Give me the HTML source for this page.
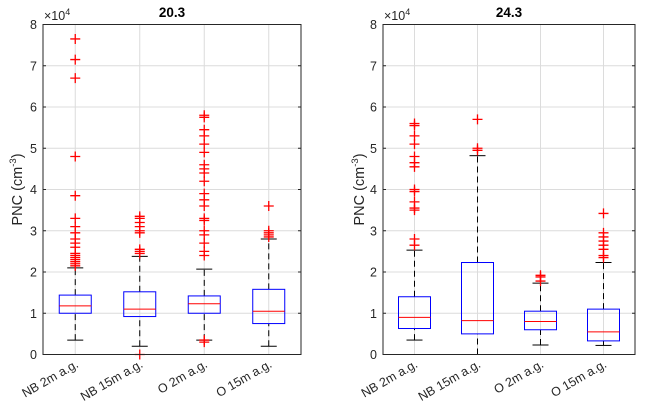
<!DOCTYPE html>
<html><head><meta charset="utf-8"><style>
body{margin:0;background:#fff;font-family:"Liberation Sans",Arial,sans-serif}
svg text{font-family:"Liberation Sans",Arial,sans-serif}
</style></head><body>
<svg id="chart" width="647" height="415" xmlns="http://www.w3.org/2000/svg"></svg>
<script>
const categories=["NB 2m a.g.","NB 15m a.g.","O 2m a.g.","O 15m a.g."];
const yTicks=[0,1,2,3,4,5,6,7,8];
const titles=["20.3","24.3"];
// values in units of 1e4 cm^-3: [whiskerLow, q1, median, q3, whiskerHigh]
const stats203=[[0.35,1.0,1.18,1.44,2.1],[0.2,0.92,1.1,1.52,2.38],[0.35,1.0,1.23,1.42,2.07],[0.2,0.75,1.05,1.58,2.8]];
const stats243=[[0.35,0.63,0.9,1.4,2.53],[0.0,0.5,0.82,2.23,4.82],[0.23,0.6,0.8,1.05,1.73],[0.22,0.33,0.55,1.1,2.23]];
const out203=[[2.15,2.2,2.25,2.3,2.35,2.4,2.45,2.6,2.7,2.8,2.95,3.1,3.3,3.85,4.8,6.7,7.15,7.65],
[0.0,2.45,2.5,2.55,2.95,3.0,3.1,3.2,3.3,3.35],
[0.3,0.35,2.4,2.5,2.7,2.9,3.0,3.25,3.3,3.6,3.75,3.9,4.2,4.4,4.5,4.6,4.9,5.1,5.3,5.45,5.75,5.8],
[2.85,2.9,2.95,3.0,3.6]];
const out243=[[2.65,2.8,3.5,3.55,3.7,3.95,4.0,4.55,4.65,4.8,5.1,5.3,5.55,5.6],
[4.95,5.0,5.7],[1.78,1.88,1.92],[2.35,2.4,2.55,2.65,2.75,2.85,2.95,3.42]];

const svg=document.getElementById('chart');
const NS='http://www.w3.org/2000/svg';
function mk(tag,attrs,parent){const e=document.createElementNS(NS,tag);for(const k in attrs)e.setAttribute(k,attrs[k]);(parent||svg).appendChild(e);return e;}
const panels=[{x0:43,x1:301,stats:stats203,outs:out203,title:titles[0],lab:17},{x0:383,x1:635,stats:stats243,outs:out243,title:titles[1],lab:359}];
const yTop=24.5,yBot=354.5;
function yS(v){return yBot-(v/8)*(yBot-yTop);}
panels.forEach((p,pi)=>{
  const g=mk('g',{});
  
  
  const n=categories.length;const step=(p.x1-p.x0)/n;
  const xS=i=>p.x0+step*(i+0.5);
  yTicks.forEach(t=>{mk('line',{x1:p.x0,x2:p.x1,y1:yS(t),y2:yS(t),stroke:'#dcdcdc','stroke-width':1},g);});
  categories.forEach((c,i)=>{mk('line',{x1:xS(i),x2:xS(i),y1:yTop,y2:yBot,stroke:'#dcdcdc','stroke-width':1},g);});
  p.stats.forEach((s,i)=>{
    const cx=xS(i),w=16;
    const bg=mk('g',{},g);
    
    
    mk('line',{x1:cx,x2:cx,y1:yS(s[0]),y2:yS(s[1]),stroke:'#000','stroke-dasharray':'6,4','stroke-width':1},bg);
    mk('line',{x1:cx,x2:cx,y1:yS(s[3]),y2:yS(s[4]),stroke:'#000','stroke-dasharray':'6,4','stroke-width':1},bg);
    mk('line',{x1:cx-8,x2:cx+8,y1:yS(s[0]),y2:yS(s[0]),stroke:'#000'},bg);
    mk('line',{x1:cx-8,x2:cx+8,y1:yS(s[4]),y2:yS(s[4]),stroke:'#000'},bg);
    mk('rect',{x:cx-w,y:yS(s[3]),width:2*w,height:yS(s[1])-yS(s[3]),fill:'none',stroke:'#0000ff','stroke-width':1},bg);
    mk('line',{x1:cx-w,x2:cx+w,y1:yS(s[2]),y2:yS(s[2]),stroke:'#ff0000'},bg);
    p.outs[i].forEach(v=>{const y=yS(v);
      mk('path',{d:`M${cx-5},${y}H${cx+5}M${cx},${y-5}V${y+5}`,stroke:'#ff0000','stroke-width':1.3,fill:'none'},bg);});
  });
  mk('rect',{x:p.x0,y:yTop,width:p.x1-p.x0,height:yBot-yTop,fill:'none',stroke:'#262626','stroke-width':1},g);
  yTicks.forEach(t=>{
    mk('line',{x1:p.x0,x2:p.x0+3,y1:yS(t),y2:yS(t),stroke:'#262626'},g);
    mk('line',{x1:p.x1,x2:p.x1-3,y1:yS(t),y2:yS(t),stroke:'#262626'},g);
    const tx=mk('text',{x:p.x0-6,y:yS(t)+4.5,'text-anchor':'end','font-size':12.5,fill:'#262626'},g);tx.textContent=t;
  });
  categories.forEach((c,i)=>{
    const tx=mk('text',{transform:`translate(${xS(i)+4},${yBot+12}) rotate(-30)`,'text-anchor':'end','font-size':12.5,fill:'#262626'},g);
    
    
    tx.textContent=c;
  });
  const ex=mk('text',{x:p.x0+1,y:20,'font-size':12.5,fill:'#262626'},g);
  
  
  ex.innerHTML='×10<tspan dy="-5" font-size="9">4</tspan>';
  const ti=mk('text',{x:(p.x0+p.x1)/2,y:17,'text-anchor':'middle','font-size':13.5,'font-weight':'bold',fill:'#000'},g);
  
  
  ti.textContent=p.title;
  const yl=mk('text',{transform:`translate(${p.lab+5},${(yTop+yBot)/2}) rotate(-90)`,'text-anchor':'middle','font-size':14.5,fill:'#262626'},g);
  
  
  yl.innerHTML='PNC (cm<tspan dy="-6" font-size="9.5">-3</tspan><tspan dy="6">)</tspan>';
});
</script>
</body></html>
